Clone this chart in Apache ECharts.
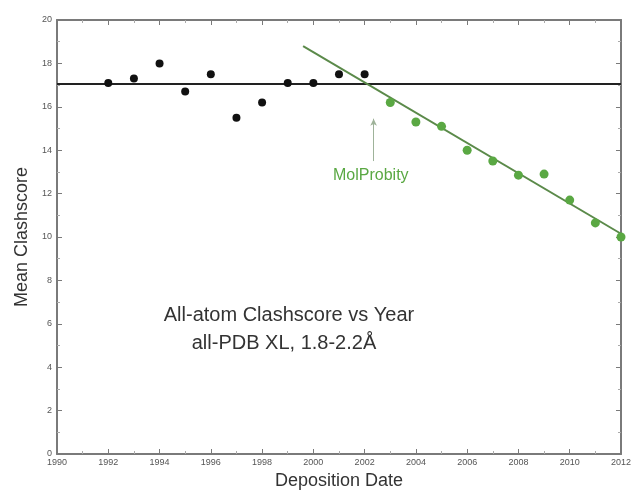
<!DOCTYPE html>
<html>
<head>
<meta charset="utf-8">
<script src="https://cdn.jsdelivr.net/npm/echarts@6/dist/echarts.min.js"></script>
<style>
  html, body { margin: 0; padding: 0; background: #fff; }
  #chart { width: 634px; height: 495px; }
</style>
</head>
<body>
<div id="chart"></div>
<script>
// pre-MolProbity years (black)
var oldYears = [1992, 1993, 1994, 1995, 1996, 1997, 1998, 1999, 2000, 2001, 2002]
var oldScores = [17.1, 17.3, 18.0, 16.7, 17.5, 15.5, 16.2, 17.1, 17.1, 17.5, 17.5]
// MolProbity era (green)
var newYears = [2003, 2004, 2005, 2006, 2007, 2008, 2009, 2010, 2011, 2012]
var newScores = [16.2, 15.3, 15.1, 14.0, 13.5, 12.85, 12.9, 11.7, 10.65, 10.0]
// reference lines
var meanLevel = 17.05
var fitLine = [[1999.6, 18.8], [2012, 10.15]]
var arrowLine = [[2002.35, 13.5], [2002.35, 15.45]]

var font = 'Liberation Sans, Arial, sans-serif'
var axisColor = '#7a7a7a'
var green = '#5aa843'

var chart = echarts.init(document.getElementById('chart'))

function pairs (xs, ys) {
  return xs.map(function (x, i) { return [x, ys[i]] })
}

var baseX = {
  type: 'value',
  min: 1990,
  max: 2012,
  interval: 2,
  axisLine: { show: true, onZero: false, lineStyle: { color: axisColor, width: 2 } },
  axisTick: { show: true, inside: true, length: 5, lineStyle: { color: axisColor } },
  minorTick: { show: true, splitNumber: 2, length: 3, lineStyle: { color: '#aaa' } },
  splitLine: { show: false }
}
var baseY = {
  type: 'value',
  min: 0,
  max: 20,
  interval: 2,
  axisLine: { show: true, onZero: false, lineStyle: { color: axisColor, width: 2 } },
  axisTick: { show: true, inside: true, length: 5, lineStyle: { color: axisColor } },
  minorTick: { show: true, splitNumber: 2, length: 3, lineStyle: { color: '#aaa' } },
  splitLine: { show: false }
}

var option = {
  animation: false,
  backgroundColor: '#fff',
  grid: { left: 57, right: 9, top: 20, bottom: 35 },
  xAxis: [
    Object.assign({}, baseX, {
      position: 'bottom',
      name: 'Deposition Date',
      nameLocation: 'middle',
      nameGap: 18,
      nameTextStyle: { fontFamily: font, fontSize: 18, color: '#333' },
      axisLabel: {
        fontFamily: font,
        fontSize: 9,
        color: '#555',
        margin: 4,
        formatter: function (v) { return String(v) }
      }
    }),
    Object.assign({}, baseX, { position: 'top', axisLabel: { show: false } })
  ],
  yAxis: [
    Object.assign({}, baseY, {
      position: 'left',
      name: 'Mean Clashscore',
      nameLocation: 'middle',
      nameGap: 22,
      nameTextStyle: { fontFamily: font, fontSize: 18, color: '#333' },
      axisLabel: { fontFamily: font, fontSize: 9, color: '#555', margin: 5 }
    }),
    Object.assign({}, baseY, { position: 'right', axisLabel: { show: false } })
  ],
  series: [
    {
      name: 'mean',
      type: 'line',
      data: [[1990, meanLevel], [2012, meanLevel]],
      symbol: 'none',
      lineStyle: { color: '#222', width: 2 },
      z: 2
    },
    {
      name: 'fit',
      type: 'line',
      data: fitLine,
      symbol: 'none',
      lineStyle: { color: '#5b8a4a', width: 2 },
      z: 3,
      markLine: {
        silent: true,
        symbol: ['none', 'arrow'],
        symbolSize: [5, 7],
        label: { show: false },
        lineStyle: { color: '#9fb39a', width: 1, type: 'solid' },
        data: [[{ coord: arrowLine[0] }, { coord: arrowLine[1] }]]
      }
    },
    {
      name: 'before',
      type: 'scatter',
      data: pairs(oldYears, oldScores),
      symbol: 'circle',
      symbolSize: 8,
      itemStyle: { color: '#111', opacity: 1 },
      z: 4
    },
    {
      name: 'after',
      type: 'scatter',
      data: pairs(newYears, newScores),
      symbol: 'circle',
      symbolSize: 9,
      itemStyle: { color: green, opacity: 1 },
      z: 4
    }
  ],
  graphic: [
    {
      type: 'text',
      left: 333,
      top: 168,
      style: { text: 'MolProbity', fill: green, font: '16px ' + font }
    },
    {
      type: 'text',
      x: 289,
      y: 315,
      style: {
        text: 'All-atom Clashscore vs Year',
        fill: '#333',
        font: '20px ' + font,
        align: 'center',
        verticalAlign: 'middle'
      }
    },
    {
      type: 'text',
      x: 284,
      y: 343,
      style: {
        text: 'all-PDB XL, 1.8-2.2Å',
        fill: '#333',
        font: '20px ' + font,
        align: 'center',
        verticalAlign: 'middle'
      }
    }
  ]
}

chart.setOption(option)
</script>
</body>
</html>
